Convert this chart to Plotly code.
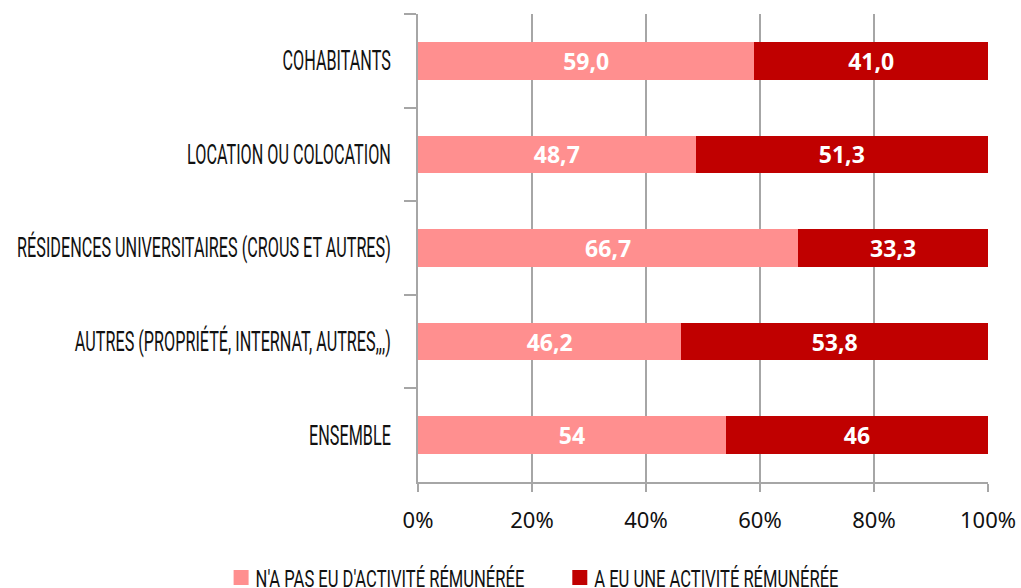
import plotly.graph_objects as go

categories = [
    "COHABITANTS",
    "LOCATION OU COLOCATION",
    "RÉSIDENCES UNIVERSITAIRES (CROUS ET AUTRES)",
    "AUTRES (PROPRIÉTÉ, INTERNAT, AUTRES,,,)",
    "ENSEMBLE",
]
series_names = ["N'A PAS EU D'ACTIVITÉ RÉMUNÉRÉE", "A EU UNE ACTIVITÉ RÉMUNÉRÉE"]
no_activity = [59.0, 48.7, 66.7, 46.2, 54]
activity = [41.0, 51.3, 33.3, 53.8, 46]
no_activity_labels = ["59,0", "48,7", "66,7", "46,2", "54"]
activity_labels = ["41,0", "51,3", "33,3", "53,8", "46"]
x_ticks = [0, 20, 40, 60, 80, 100]
x_tick_labels = ["0%", "20%", "40%", "60%", "80%", "100%"]

colors = ["#FF8F8F", "#C00000"]
cat_font = dict(family="Roboto", size=27, color="#111111")
leg_font = dict(family="Roboto", size=24, color="#111111")

fig = go.Figure()
for name, vals, labels, col in [
    (series_names[0], no_activity, no_activity_labels, colors[0]),
    (series_names[1], activity, activity_labels, colors[1]),
]:
    fig.add_trace(go.Bar(
        y=categories, x=vals, orientation="h", name=name,
        marker=dict(color=col, line=dict(width=0)),
        text=labels, textposition="inside", insidetextanchor="middle",
        textangle=0,
        textfont=dict(family="Open Sans", size=23, color="white", weight="bold"),
        constraintext="none",
    ))

fig.update_layout(
    barmode="stack",
    bargap=0.6,
    width=1021, height=588,
    margin=dict(l=418, r=33, t=14, b=106, autoexpand=False),
    plot_bgcolor="white", paper_bgcolor="white",
    showlegend=True,
    legend=dict(
        orientation="h", xref="container", yref="container",
        x=0.5206, xanchor="center", y=0.017, yanchor="middle",
        font=leg_font, itemwidth=30, traceorder="normal",
        entrywidth=300, entrywidthmode="pixels",
    ),
    xaxis=dict(
        range=[0, 100], tickvals=x_ticks, ticktext=x_tick_labels,
        showgrid=True, gridcolor="#A6A6A6", gridwidth=1.5,
        showline=True, linecolor="#A6A6A6", linewidth=1.5,
        ticks="outside", ticklen=8, tickcolor="#A6A6A6", tickwidth=1.5,
        tickfont=dict(family="Noto Sans", size=22, color="#111111"),
        ticklabelstandoff=10, zeroline=False, automargin=False,
    ),
    yaxis=dict(
        autorange="reversed", type="category",
        showline=True, linecolor="#A6A6A6", linewidth=1.5,
        ticks="outside", ticklen=12, tickcolor="#A6A6A6", tickwidth=1.5,
        tickson="boundaries",
        tickfont=cat_font,
        ticklabelstandoff=20, showgrid=False, automargin=False,
    ),
)

# Condense the category and legend texts (the original uses a condensed typeface)
post_js = r"""
(function(){
var gd=document.getElementById('{plot_id}');
document.body.style.margin='0';
var F=0.6, FL=0.69, GAP=48, TX=34.5, SL=12.5, SC=1.25, BASE=587;
function condense(){
  gd.querySelectorAll('g.ytick text').forEach(function(t){
    if(t.getAttribute('data-cond')) return;
    var w=t.getComputedTextLength();
    t.setAttribute('textLength',(w*F).toFixed(2));
    t.setAttribute('lengthAdjust','spacingAndGlyphs');
    t.setAttribute('data-cond','1');
  });
  var tr=gd.querySelectorAll('g.legend g.traces');
  if(!tr.length || tr[0].getAttribute('data-cond')) return;
  gd.querySelectorAll('g.legend [clip-path]').forEach(function(e){e.removeAttribute('clip-path');});
  var xs=[],ys=[],ws=[];
  tr.forEach(function(g){
    var m=/translate\(([-\d.e]+)[, ]+([-\d.e]+)\)/.exec(g.getAttribute('transform'));
    xs.push(parseFloat(m[1])); ys.push(parseFloat(m[2]));
    var t=g.querySelector('text.legendtext');
    ws.push(t.getComputedTextLength()*FL);
  });
  var n=tr.length;
  var origL=xs[0]+14, origR=xs[n-1]+40+300;
  var span=0;
  for(var i=0;i<n;i++){ span+=TX+ws[i]; if(i<n-1) span+=GAP-SL; }
  span-=SL;
  var x=(origL+origR)/2-span/2-SL;
  tr.forEach(function(g,i){
    var t=g.querySelector('text.legendtext');
    t.setAttribute('x',TX);
    t.setAttribute('textLength',ws[i].toFixed(2));
    t.setAttribute('lengthAdjust','spacingAndGlyphs');
    g.querySelectorAll('g.legendpoints path').forEach(function(p){
      var tf=p.getAttribute('transform')||'';
      p.setAttribute('transform',tf+' scale('+SC+')');
    });
    g.setAttribute('transform','translate('+x+','+ys[0]+')');
    g.setAttribute('data-cond','1');
    x+=TX+ws[i]+GAP-SL;
  });
  var r=tr[0].querySelector('text.legendtext').getBoundingClientRect();
  var baseline=r.bottom-0.244*24;
  var dy=BASE-baseline;
  tr.forEach(function(g){
    var m=/translate\(([-\d.e]+)[, ]+([-\d.e]+)\)/.exec(g.getAttribute('transform'));
    g.setAttribute('transform','translate('+m[1]+','+(parseFloat(m[2])+dy)+')');
  });
}
condense();
gd.on('plotly_afterplot',condense);
})();
"""

fig.write_html("out.html", post_script=post_js, config={"displayModeBar": False})
